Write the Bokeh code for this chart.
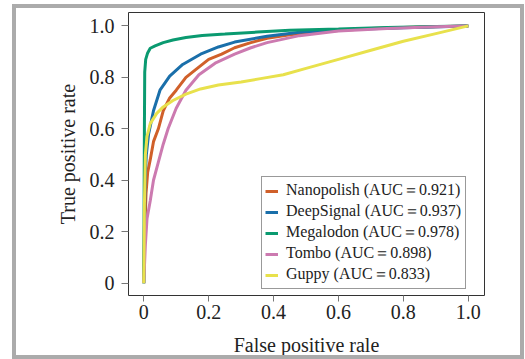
from bokeh.plotting import figure
from bokeh.models import FixedTicker, PrintfTickFormatter, Legend, LegendItem, InlineStyleSheet
from bokeh.embed import file_html
from bokeh.resources import INLINE

# ---- data ----
nano_x = [0, 0.003, 0.007, 0.012, 0.02, 0.03, 0.045, 0.06, 0.08, 0.1, 0.13, 0.16, 0.2, 0.24, 0.28, 0.33, 0.38, 0.45, 0.55, 0.7, 0.85, 1.0]
nano_y = [0, 0.2, 0.35, 0.43, 0.48, 0.55, 0.6, 0.67, 0.72, 0.75, 0.8, 0.83, 0.87, 0.89, 0.915, 0.935, 0.952, 0.965, 0.978, 0.99, 0.996, 1.0]

deep_x = [0, 0.002, 0.004, 0.008, 0.015, 0.03, 0.05, 0.08, 0.12, 0.175, 0.23, 0.28, 0.38, 0.48, 0.6, 0.8, 1.0]
deep_y = [0, 0.2, 0.4, 0.5, 0.58, 0.67, 0.75, 0.805, 0.85, 0.89, 0.918, 0.937, 0.96, 0.975, 0.985, 0.993, 1.0]

mega_x = [0, 0.001, 0.002, 0.003, 0.006, 0.012, 0.02, 0.035, 0.06, 0.09, 0.13, 0.18, 0.25, 0.35, 0.45, 0.6, 0.75, 0.9, 1.0]
mega_y = [0, 0.3, 0.6, 0.82, 0.87, 0.895, 0.913, 0.922, 0.935, 0.945, 0.955, 0.963, 0.968, 0.976, 0.983, 0.988, 0.994, 0.998, 1.0]

tombo_x = [0, 0.005, 0.01, 0.02, 0.03, 0.045, 0.06, 0.075, 0.1, 0.13, 0.17, 0.22, 0.28, 0.33, 0.38, 0.48, 0.6, 0.75, 0.9, 1.0]
tombo_y = [0, 0.15, 0.25, 0.32, 0.4, 0.47, 0.54, 0.6, 0.68, 0.75, 0.81, 0.855, 0.89, 0.915, 0.935, 0.962, 0.98, 0.99, 0.997, 1.0]

guppy_x = [0, 0.002, 0.005, 0.01, 0.02, 0.04, 0.06, 0.09, 0.13, 0.175, 0.23, 0.3, 0.36, 0.43, 0.5, 0.6, 0.7, 0.8, 0.9, 1.0]
guppy_y = [0, 0.3, 0.5, 0.57, 0.62, 0.66, 0.685, 0.71, 0.735, 0.755, 0.77, 0.782, 0.795, 0.81, 0.835, 0.87, 0.905, 0.94, 0.97, 1.0]

series_names = ["Nanopolish (AUC\uff1d0.921)", "DeepSignal (AUC\uff1d0.937)", "Megalodon (AUC\uff1d0.978)",
                "Tombo (AUC\uff1d0.898)", "Guppy (AUC\uff1d0.833)"]
series_x = [nano_x, deep_x, mega_x, tombo_x, guppy_x]
series_y = [nano_y, deep_y, mega_y, tombo_y, guppy_y]
colors = ["#D0602A", "#1A6FAA", "#0A9A70", "#CC7AB0", "#E8E14C"]

tick_values = [0, 0.2, 0.4, 0.6, 0.8, 1.0]

FONT = "Liberation Serif"

p = figure(width=525, height=359, output_backend="svg", toolbar_location=None,
           x_range=(-0.047, 1.050), y_range=(-0.048, 1.052),
           min_border_left=128, min_border_top=12, min_border_right=41, min_border_bottom=64,
           x_axis_label="False positive rale", y_axis_label="True positive rate")

# outer grey panel frame drawn over the canvas edges
p.stylesheets = [InlineStyleSheet(css=(
    ":host::after { content: ''; position: absolute; left: 12px; top: 4px; "
    "width: 512px; height: 355px; box-sizing: border-box; "
    "border: 4px solid #ababab; pointer-events: none; z-index: 50; }"
))]

p.xgrid.visible = False
p.ygrid.visible = False
p.outline_line_color = "#333333"
p.outline_line_width = 1
p.background_fill_color = "white"
p.border_fill_color = "white"

for ax in (p.xaxis[0], p.yaxis[0]):
    ax.ticker = FixedTicker(ticks=tick_values)
    ax.formatter = PrintfTickFormatter(format="%.1f")
    ax.major_label_overrides = {0: "0"}
    ax.axis_line_color = None
    ax.major_tick_line_color = "#777777"
    ax.major_tick_in = 0
    ax.minor_tick_line_color = None
    ax.major_label_text_font = FONT
    ax.major_label_text_font_size = "20px"
    ax.major_label_text_color = "#222222"
    ax.axis_label_text_font = FONT
    ax.axis_label_text_font_size = "20px"
    ax.axis_label_text_font_style = "normal"
    ax.axis_label_text_color = "#222222"

p.xaxis[0].major_tick_out = 6
p.xaxis[0].major_label_standoff = 3
p.xaxis[0].axis_label_standoff = 12
p.yaxis[0].major_tick_out = 7
p.yaxis[0].major_label_standoff = 7
p.yaxis[0].axis_label_standoff = 8

items = []
for name, xs, ys, c in zip(series_names, series_x, series_y, colors):
    r = p.line(xs, ys, line_color=c, line_width=3)
    items.append(LegendItem(label=name, renderers=[r]))

legend = Legend(items=items, location=(133, 6))
legend.label_text_font = FONT
legend.label_text_font_size = "16px"
legend.label_text_line_height = 1.0
legend.label_text_color = "#222222"
legend.border_line_color = "#333333"
legend.border_line_width = 1
legend.padding = 3
legend.spacing = 0
legend.glyph_height = 16
legend.label_height = 16
legend.label_width = 176
legend.glyph_width = 13
legend.label_standoff = 8
legend.margin = 0
legend.background_fill_color = "white"
legend.background_fill_alpha = 1
p.add_layout(legend, "center")

open("out.html", "w").write(file_html(p, INLINE))
